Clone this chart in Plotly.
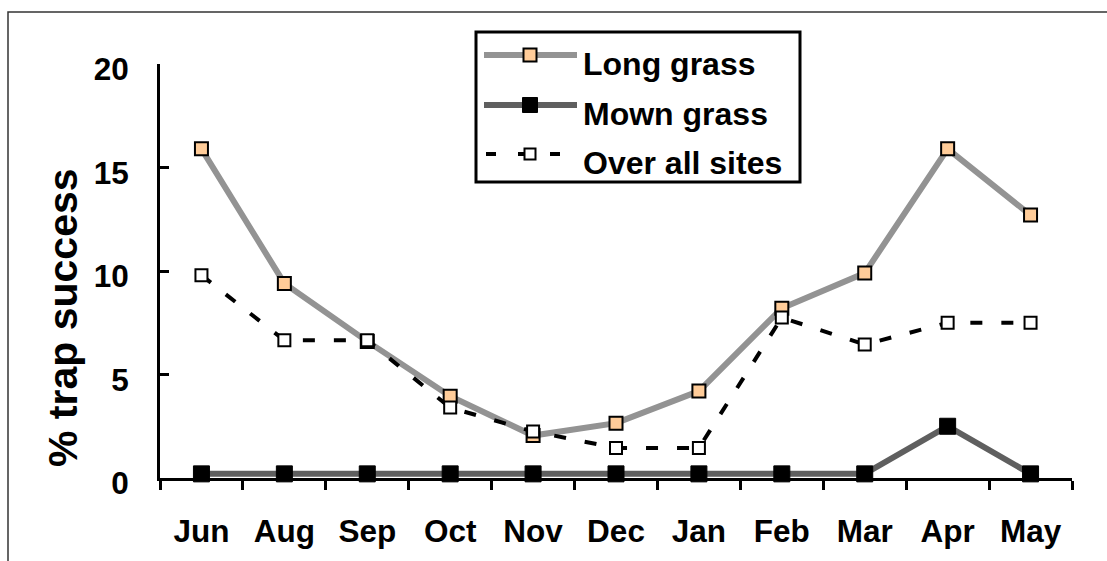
import plotly.graph_objects as go

months = ["Jun", "Aug", "Sep", "Oct", "Nov", "Dec", "Jan", "Feb", "Mar", "Apr", "May"]
long_grass = [15.9, 9.4, 6.6, 3.95, 2.05, 2.65, 4.2, 8.2, 9.9, 15.9, 12.7]
mown_grass = [0.2, 0.2, 0.2, 0.2, 0.2, 0.2, 0.2, 0.2, 0.2, 2.5, 0.2]
over_all = [9.8, 6.65, 6.65, 3.4, 2.25, 1.45, 1.45, 7.75, 6.45, 7.5, 7.5]
y_ticks = [0, 5, 10, 15, 20]
series_names = ["Long grass", "Mown grass", "Over all sites"]

W, H = 1107, 561
PX0, PX1 = 160, 1072
PY_TOP, PY_BOT = 64, 478
FONT = "Liberation Sans, Arial, sans-serif"

LONG_LINE = "#939393"
LONG_FILL = "#ffcc99"
MOWN_LINE = "#5f5f5f"


def px(x):
    return (x - PX0) / (PX1 - PX0)


def py(y):
    return (PY_BOT - y) / (PY_BOT - PY_TOP)


fig = go.Figure()
fig.add_trace(go.Scatter(
    x=months, y=long_grass, name=series_names[0], mode="lines+markers",
    line=dict(color=LONG_LINE, width=6),
    marker=dict(symbol="square", size=13, color=LONG_FILL, line=dict(color="black", width=2)),
    cliponaxis=False, showlegend=False))
fig.add_trace(go.Scatter(
    x=months, y=mown_grass, name=series_names[1], mode="lines+markers",
    line=dict(color=MOWN_LINE, width=6),
    marker=dict(symbol="square", size=16, color="black", line=dict(color="black", width=1)),
    cliponaxis=False, showlegend=False))
fig.add_trace(go.Scatter(
    x=months, y=over_all, name=series_names[2], mode="lines+markers",
    line=dict(color="black", width=4, dash="12px,19px"),
    marker=dict(symbol="square", size=12, color="white", line=dict(color="black", width=2)),
    cliponaxis=False, showlegend=False))

shapes = []
annotations = []

# outer frame
shapes.append(dict(type="rect", xref="paper", yref="paper",
                   x0=px(8), x1=px(1130), y0=py(590), y1=py(12),
                   line=dict(color="#333333", width=1.5), fillcolor="rgba(0,0,0,0)", layer="below"))

# legend box
shapes.append(dict(type="rect", xref="paper", yref="paper",
                   x0=px(476), x1=px(800), y0=py(182), y1=py(32),
                   line=dict(color="black", width=3), fillcolor="white", layer="above"))

rows = [55, 105, 154]
styles = [
    dict(line=dict(color=LONG_LINE, width=6), mk=13, fill=LONG_FILL, mline=2, x0=484, x1=577),
    dict(line=dict(color=MOWN_LINE, width=6), mk=15, fill="black", mline=1, x0=484, x1=577),
    dict(line=dict(color="black", width=4, dash="10px,22px"), mk=11, fill="white", mline=2, x0=486, x1=577),
]
for name, ry, st in zip(series_names, rows, styles):
    shapes.append(dict(type="line", xref="paper", yref="paper",
                       x0=px(st["x0"]), x1=px(st["x1"]), y0=py(ry), y1=py(ry),
                       line=st["line"], layer="above"))
    h = st["mk"] / 2
    shapes.append(dict(type="rect", xref="paper", yref="paper",
                       x0=px(530 - h), x1=px(530 + h), y0=py(ry + h), y1=py(ry - h),
                       line=dict(color="black", width=st["mline"]), fillcolor=st["fill"], layer="above"))
    annotations.append(dict(xref="paper", yref="paper", x=px(581), y=py(ry + 9),
                            xanchor="left", yanchor="middle", showarrow=False, text=name,
                            font=dict(family=FONT, size=32, color="black", weight="bold")))

# y-axis title
annotations.append(dict(xref="paper", yref="paper", x=px(63), y=py(318),
                        xanchor="center", yanchor="middle", showarrow=False,
                        text="% trap success", textangle=-90,
                        font=dict(family=FONT, size=41, color="black", weight="bold")))

fig.update_layout(
    width=W, height=H,
    margin=dict(l=PX0, r=W - PX1, t=PY_TOP, b=H - PY_BOT, pad=0),
    paper_bgcolor="white", plot_bgcolor="white",
    font=dict(family=FONT, size=31, color="black", weight="bold"),
    shapes=shapes, annotations=annotations,
    showlegend=False,
)
fig.update_xaxes(
    type="category", categoryorder="array", categoryarray=months,
    range=[-0.5, len(months) - 0.5],
    showline=True, linecolor="black", linewidth=3,
    ticks="outside", tickson="boundaries", ticklen=9, tickwidth=3, tickcolor="black",
    showgrid=False, zeroline=False, ticklabelstandoff=23,
    tickfont=dict(family=FONT, size=31.5, color="black", weight="bold"),
)
fig.update_yaxes(
    range=[0, 20], tickvals=y_ticks, ticktext=[str(v) for v in y_ticks],
    showline=True, linecolor="black", linewidth=3,
    ticks="inside", ticklen=9, tickwidth=3, tickcolor="black",
    showgrid=False, zeroline=False, ticklabelstandoff=22, ticklabelshift=5,
    tickfont=dict(family=FONT, size=31.5, color="black", weight="bold"),
)

fig.write_html("out.html", config={"displayModeBar": False},
               post_script="document.body.style.margin='0px';")
